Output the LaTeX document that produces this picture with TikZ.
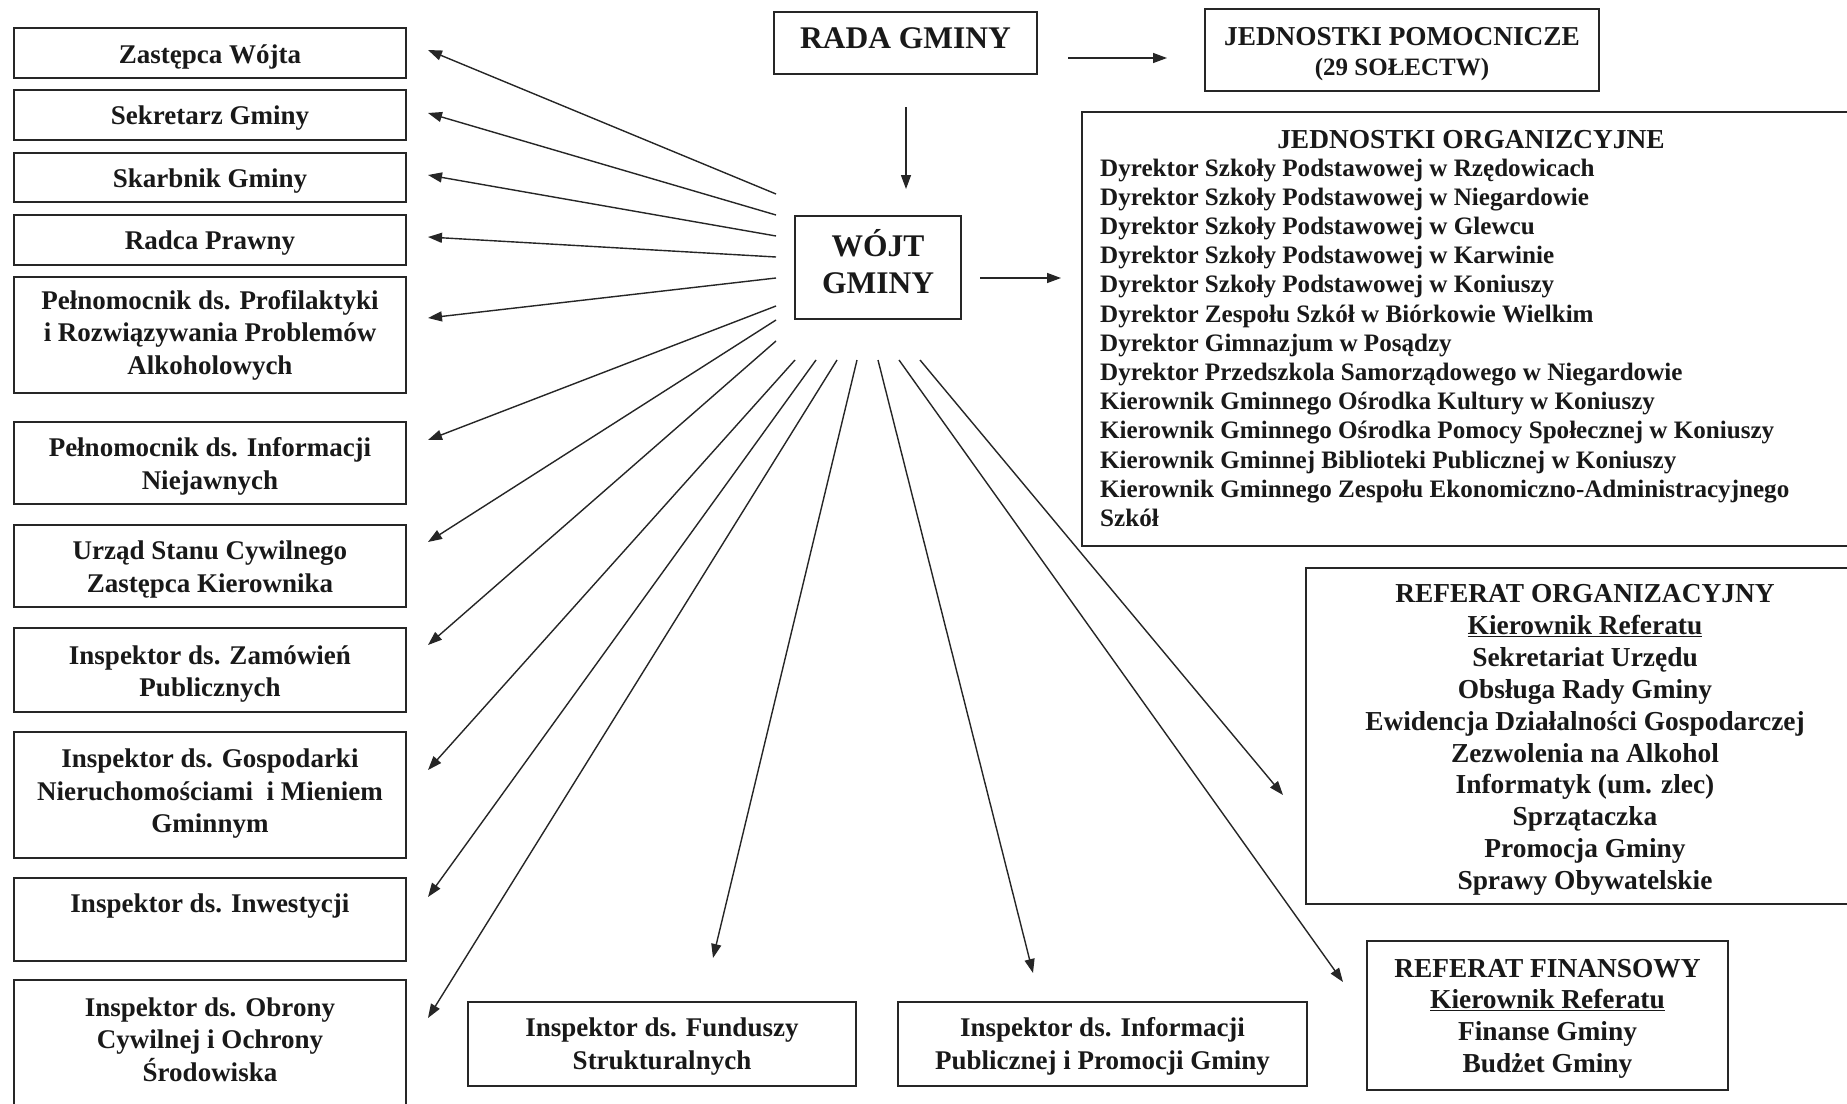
\documentclass[tikz,border=0pt]{standalone}
\usepackage{fontspec}
\setmainfont{Liberation Serif}
\usetikzlibrary{arrows.meta}
\begin{document}
\begin{tikzpicture}[x=1pt,y=-1pt,
  box/.style={draw=black!85, line width=1.5pt, inner sep=0pt},
  txt/.style={align=center, inner sep=0pt, text=black!90,
    font=\fontsize{27}{32.5}\selectfont\bfseries},
  btxt/.style={txt, font=\fontsize{27.4}{31.9}\selectfont\bfseries},
  htxt/.style={txt, font=\fontsize{31.5}{37}\selectfont\bfseries},
  lbox/.style={box, minimum width=392pt},
  arr/.style={draw=black!85, line width=1.4pt, -{Triangle[length=14pt,width=10pt]}},
  item/.style={anchor=base west, inner sep=0pt, text=black!90,
    font=\fontsize{25.1}{29}\selectfont\bfseries}]
\useasboundingbox (0,0) rectangle (1847,1103);
\fill[white] (0,0) rectangle (1847,1103);
\clip (0,0) rectangle (1847,1103);

% left column: boxes
\node[lbox, minimum height=50pt]  (zast)  at (210,53)    {};
\node[lbox, minimum height=50pt]  (sekr)  at (210,115)   {};
\node[lbox, minimum height=49pt]  (skarb) at (210,177.5) {};
\node[lbox, minimum height=50pt]  (radca) at (210,240)   {};
\node[lbox, minimum height=116pt] (pprof) at (210,335)   {};
\node[lbox, minimum height=82pt]  (pinf)  at (210,463)   {};
\node[lbox, minimum height=82pt]  (usc)   at (210,566)   {};
\node[lbox, minimum height=84pt]  (zam)   at (210,670)   {};
\node[lbox, minimum height=126pt] (gosp)  at (210,795)   {};
\node[lbox, minimum height=83pt]  (inw)   at (210,919.5) {};
\node[lbox, minimum height=126pt] (obr)   at (210,1043)  {};
% left column: texts
\node[txt] (zast-t)  at (210,56.5)  {Zastępca Wójta};
\node[txt] (sekr-t)  at (210,118.5) {Sekretarz Gminy};
\node[txt] (skarb-t) at (210,181)   {Skarbnik Gminy};
\node[txt] (radca-t) at (210,243.5) {Radca Prawny};
\node[txt] (pprof-t) at (210,335)   {Pełnomocnik ds. Profilaktyki\\i Rozwiązywania Problemów\\Alkoholowych};
\node[txt] (pinf-t)  at (210,466.5) {Pełnomocnik ds. Informacji\\Niejawnych};
\node[txt] (usc-t)   at (210,569.5) {Urząd Stanu Cywilnego\\Zastępca Kierownika};
\node[txt] (zam-t)   at (210,674)   {Inspektor ds. Zamówień\\Publicznych};
\node[txt] (gosp-t)  at (210,794)   {Inspektor ds. Gospodarki\\Nieruchomościami~ i Mieniem\\Gminnym};
\node[txt] (inw-t)   at (210,906)   {Inspektor ds. Inwestycji};
\node[txt] (obr-t)   at (210,1039.5){Inspektor ds. Obrony\\Cywilnej i Ochrony\\Środowiska};

% centre
\node[box, minimum width=263pt, minimum height=62pt] (rada) at (905.5,43) {};
\node[htxt] (rada-t) at (905.5,38) {RADA GMINY};
\node[box, minimum width=166pt, minimum height=103pt] (wojt) at (878,267.5) {};
\node[htxt] (wojt-t) at (878,261.5) {WÓJT\\GMINY};

% top right
\node[box, minimum width=394pt, minimum height=82pt] (jpom) at (1402,50) {};
\node[txt, font=\fontsize{27.3}{30}\selectfont\bfseries] (jpom-t) at (1402,54.5)
  {JEDNOSTKI POMOCNICZE\\\fontsize{25}{30}\selectfont(29 SOŁECTW)};

\node[box, minimum width=780pt, minimum height=434pt] (jorg) at (1472,329) {};
\node[anchor=base, inner sep=0pt, text=black!90, font=\fontsize{27.4}{30}\selectfont\bfseries] (jorg-t) at (1471,148) {JEDNOSTKI ORGANIZCYJNE};
\foreach \t [count=\i from 0] in {
  Dyrektor Szkoły Podstawowej w Rzędowicach,
  Dyrektor Szkoły Podstawowej w Niegardowie,
  Dyrektor Szkoły Podstawowej w Glewcu,
  Dyrektor Szkoły Podstawowej w Karwinie,
  Dyrektor Szkoły Podstawowej w Koniuszy,
  Dyrektor Zespołu Szkół w Biórkowie Wielkim,
  Dyrektor Gimnazjum w Posądzy,
  Dyrektor Przedszkola Samorządowego w Niegardowie,
  Kierownik Gminnego Ośrodka Kultury w Koniuszy,
  Kierownik Gminnego Ośrodka Pomocy Społecznej w Koniuszy,
  Kierownik Gminnej Biblioteki Publicznej w Koniuszy,
  Kierownik Gminnego Zespołu Ekonomiczno-Administracyjnego,
  Szkół}
  \node[item] (ji\i) at (1100,{176+29.2*\i}) {\t};

% referaty
\node[box, minimum width=558pt, minimum height=336pt] (rorg) at (1585,736) {};
\node[btxt] (rorg-t) at (1585,740)
  {REFERAT ORGANIZACYJNY\\\underline{Kierownik Referatu}\\Sekretariat Urzędu\\Obsługa Rady Gminy\\Ewidencja Działalności Gospodarczej\\Zezwolenia na Alkohol\\Informatyk (um. zlec)\\Sprzątaczka\\Promocja Gminy\\Sprawy Obywatelskie};
\node[box, minimum width=361pt, minimum height=149pt] (rfin) at (1547.5,1015.5) {};
\node[btxt, font=\fontsize{27.4}{31.7}\selectfont\bfseries] (rfin-t) at (1547.5,1018.5)
  {REFERAT FINANSOWY\\\underline{Kierownik Referatu}\\Finanse Gminy\\Budżet Gminy};

% bottom
\node[box, minimum width=388pt, minimum height=84pt] (fund) at (662,1044) {};
\node[txt] (fund-t) at (662,1046.5) {Inspektor ds. Funduszy\\Strukturalnych};
\node[box, minimum width=409pt, minimum height=84pt] (ipub) at (1102.5,1044) {};
\node[txt] (ipub-t) at (1102.5,1046.5) {Inspektor ds. Informacji\\Publicznej i Promocji Gminy};

% connectors
\coordinate (rw1) at (906,107);  \coordinate (rw2) at (906,189);
\draw[arr] (rw1) -- (rw2);
\coordinate (rj1) at (1068,58);  \coordinate (rj2) at (1167,58);
\draw[arr] (rj1) -- (rj2);
\coordinate (wj1) at (980,278);  \coordinate (wj2) at (1061,278);
\draw[arr] (wj1) -- (wj2);

\foreach \n/\sx/\sy/\ex/\ey in {
  zast/776/194/428/50,
  sekr/776/215/428/113,
  skarb/776/236/428/175,
  radca/776/257/428/237,
  pprof/776/278/428/318,
  pinf/776/306/428/440,
  usc/776/320/428/542,
  zam/776/341/428/645,
  gosp/795/360/428/770,
  inw/816/360/428/897,
  obr/837/360/428/1018,
  fund/857/360/713/958,
  ipub/878/360/1033/973,
  rfin/899/360/1343/982,
  rorg/920/360/1283/795}
{
  \coordinate (s-\n) at (\sx,\sy);
  \coordinate (e-\n) at (\ex,\ey);
  \draw[arr] (s-\n) -- (e-\n);
}
\end{tikzpicture}
\end{document}
